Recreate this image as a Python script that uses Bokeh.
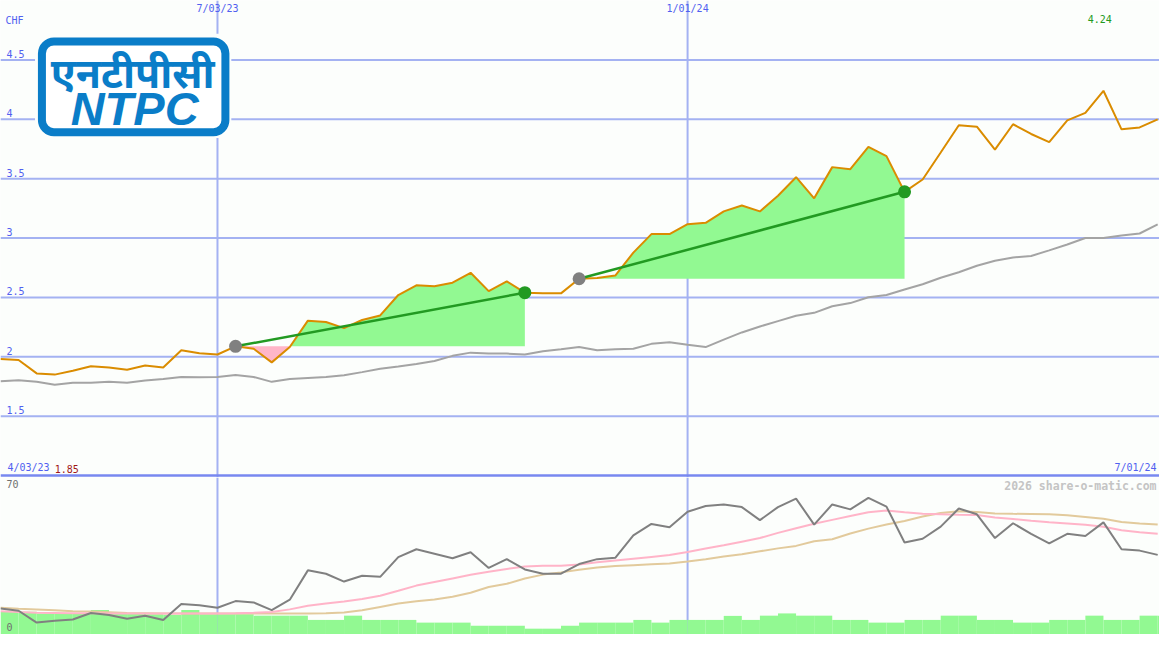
from bokeh.plotting import figure
from bokeh.layouts import column
from bokeh.models import Span, BoxAnnotation, Label, Range1d
from bokeh.embed import file_html
from bokeh.resources import INLINE

# ---------------- data (weekly points) ----------------
weeks = list(range(65))
price = [1.981, 1.973, 1.860, 1.850, 1.882, 1.920, 1.910, 1.891, 1.926, 1.910,
         2.055, 2.030, 2.019, 2.088, 2.068, 1.953, 2.082, 2.304, 2.293, 2.241,
         2.310, 2.348, 2.520, 2.602, 2.594, 2.624, 2.707, 2.553, 2.635, 2.540,
         2.534, 2.534, 2.657, 2.663, 2.684, 2.877, 3.033, 3.033, 3.117, 3.128,
         3.224, 3.274, 3.224, 3.356, 3.512, 3.334, 3.597, 3.580, 3.767, 3.690,
         3.389, 3.493, 3.720, 3.950, 3.937, 3.745, 3.958, 3.876, 3.808, 3.991,
         4.054, 4.240, 3.915, 3.931, 3.999]
moving_avg = [1.795, 1.803, 1.789, 1.764, 1.781, 1.781, 1.789, 1.781, 1.800, 1.813,
              1.830, 1.827, 1.830, 1.846, 1.830, 1.789, 1.813, 1.822, 1.830, 1.844,
              1.871, 1.899, 1.918, 1.940, 1.965, 2.008, 2.035, 2.027, 2.027, 2.019,
              2.047, 2.063, 2.082, 2.055, 2.063, 2.068, 2.109, 2.123, 2.101, 2.082,
              2.145, 2.205, 2.255, 2.300, 2.345, 2.370, 2.425, 2.452, 2.501, 2.520,
              2.567, 2.611, 2.666, 2.712, 2.767, 2.808, 2.836, 2.849, 2.896, 2.945,
              3.000, 3.000, 3.021, 3.038, 3.115]
rsi = [11.6, 10.6, 5.3, 6.1, 6.7, 9.6, 8.7, 7.0, 8.4, 6.5,
       13.6, 13.0, 11.9, 14.9, 14.3, 10.9, 15.5, 28.6, 27.1, 23.6,
       26.2, 25.7, 34.5, 38.0, 36.0, 34.0, 36.7, 29.7, 33.6, 29.0,
       27.1, 27.1, 31.4, 33.6, 34.2, 44.2, 49.3, 47.8, 54.7, 57.3,
       58.0, 56.8, 51.0, 56.8, 60.6, 49.0, 58.0, 55.8, 60.9, 57.0,
       41.0, 42.7, 48.1, 56.2, 53.6, 43.0, 49.6, 44.9, 40.6, 44.9,
       43.9, 50.0, 38.0, 37.4, 35.5]
rsi_fast = [10.4, 10.0, 9.7, 9.6, 9.5, 9.5, 9.4, 9.4, 9.4, 9.4,
            9.4, 9.4, 9.4, 9.5, 9.7, 10.0, 11.2, 12.8, 13.8, 14.7,
            15.8, 17.3, 19.5, 21.8, 23.4, 25.0, 26.6, 28.0, 29.2, 30.3,
            30.7, 30.7, 31.2, 32.2, 33.0, 33.8, 34.6, 35.4, 36.8, 38.3,
            39.8, 41.4, 43.0, 45.3, 47.4, 49.4, 51.1, 52.8, 54.5, 55.3,
            54.5, 53.8, 53.6, 53.4, 53.3, 52.2, 51.5, 50.7, 50.0, 49.5,
            48.9, 48.0, 46.5, 45.6, 44.9]
rsi_slow = [11.9, 11.5, 11.2, 10.8, 10.4, 10.2, 9.9, 9.6, 9.5, 9.4,
            9.4, 9.4, 9.4, 9.4, 9.4, 9.4, 9.4, 9.4, 9.5, 9.8,
            10.8, 12.3, 13.8, 14.8, 15.6, 16.8, 18.6, 21.2, 22.6, 25.0,
            26.7, 27.7, 28.9, 29.9, 30.5, 30.9, 31.3, 31.7, 32.5, 33.6,
            34.8, 35.8, 37.1, 38.4, 39.5, 41.6, 42.5, 45.0, 47.2, 49.0,
            50.6, 52.6, 54.2, 55.0, 54.6, 54.0, 53.8, 53.7, 53.6, 53.2,
            52.4, 51.6, 50.2, 49.5, 49.0]
volume = [10.1, 10.1, 9.4, 9.4, 9.4, 10.9, 9.4, 9.4, 9.0, 8.7,
          10.9, 9.0, 9.0, 9.0, 8.4, 8.4, 8.4, 6.5, 6.5, 8.4,
          6.5, 6.5, 6.5, 5.3, 5.3, 5.3, 3.9, 3.9, 3.9, 2.6,
          2.6, 3.9, 5.3, 5.3, 5.3, 6.5, 5.3, 6.5, 6.5, 6.5,
          8.3, 6.5, 8.4, 9.4, 8.4, 8.4, 6.5, 6.5, 5.3, 5.3,
          6.5, 6.5, 8.4, 8.4, 6.5, 6.5, 5.3, 5.3, 6.5, 6.5,
          8.4, 6.5, 6.5, 8.4, 8.4]
trend_start = [13, 32]
trend_end = [29, 50]
price_ticks = [1.5, 2.0, 2.5, 3.0, 3.5, 4.0, 4.5]
price_tick_labels = ["1.5", "2", "2.5", "3", "3.5", "4", "4.5"]
date_ticks = [12, 38]
date_tick_labels = ["7/03/23", "1/01/24"]
start_label = "4/03/23"
end_label = "7/01/24"
currency = "CHF"
rsi_ticks = [70, 0]
rsi_tick_labels = ["70", "0"]
credit = "2026 share-o-matic.com"
logo_hindi = "एनटीपीसी"
logo_latin = "NTPC"

# ---------------- style ----------------
BG = "#FCFEFC"
GRID = "#A4B2F2"
SEP = "#7888F0"
TXT = "#5060F0"
ORANGE = "#DA8C00"
MA_GRAY = "#A4A4A4"
FILL_G = "#92F992"
FILL_P = "#FFB6C8"
TREND = "#229A22"
DOT_GRAY = "#808080"
LOGO = "#0A7DC8"
MONO = "DejaVu Sans Mono"

W = 1159
H_TOP = 477
H_BOT = 157
X0, X1 = 0.0, 64.1
Y0, Y1 = 0.9836, 5.0
REF_W, REF_TOP = 1175.0, 489.0


def fx(px):
    return X0 + px * (X1 - X0) / REF_W


def fy(py):
    return Y1 - py * (Y1 - Y0) / REF_TOP


def fy2(py):
    return (650.0 - py) * 70.0 / 161.0


xr = Range1d(X0, X1)

p = figure(width=W, height=H_TOP, x_range=xr, y_range=Range1d(Y0, Y1),
           x_axis_type=None, y_axis_type=None, output_backend="svg",
           toolbar_location=None, min_border=0, outline_line_color=None,
           background_fill_color=BG, border_fill_color=BG)
p.grid.visible = False

for t in price_ticks:
    p.add_layout(Span(location=t, dimension="width", line_color=GRID,
                      line_width=2, level="underlay"))
for d in date_ticks:
    p.add_layout(Span(location=d, dimension="height", line_color=GRID,
                      line_width=2, level="underlay"))
p.add_layout(Span(location=1.0, dimension="width", line_color=SEP,
                  line_width=2.5, level="underlay"))


def split_at_base(i0, i1, base):
    xs, ys = [], []
    for k in range(i0, i1 + 1):
        if k > i0:
            a, b = price[k - 1], price[k]
            if (a - base) * (b - base) < 0:
                t = (base - a) / (b - a)
                xs.append(weeks[k - 1] + t)
                ys.append(base)
        xs.append(weeks[k])
        ys.append(price[k])
    return xs, ys


for s, e in zip(trend_start, trend_end):
    base = price[s]
    xs, ys = split_at_base(s, e, base)
    p.varea(x=xs, y1=[base] * len(xs), y2=[max(v, base) for v in ys],
            fill_color=FILL_G)
    p.varea(x=xs, y1=[min(v, base) for v in ys], y2=[base] * len(xs),
            fill_color=FILL_P)

p.line(weeks, moving_avg, line_color=MA_GRAY, line_width=2)
p.line(weeks, price, line_color=ORANGE, line_width=2)

for s, e in zip(trend_start, trend_end):
    p.line([weeks[s], weeks[e]], [price[s], price[e]], line_color=TREND,
           line_width=2.5)
p.scatter([weeks[s] for s in trend_start], [price[s] for s in trend_start],
          size=13, fill_color=DOT_GRAY, line_color=None)
p.scatter([weeks[e] for e in trend_end], [price[e] for e in trend_end],
          size=13, fill_color=TREND, line_color=None)

# labels
for t, lab in zip(price_ticks, price_tick_labels):
    p.add_layout(Label(x=fx(6), y=t, text=lab, text_font=MONO,
                       text_font_size="10px", text_color=TXT,
                       text_baseline="bottom", y_offset=2))
p.add_layout(Label(x=fx(5), y=fy(15), text=currency, text_font=MONO,
                   text_font_size="10px", text_color=TXT, text_baseline="top"))
for d, lab in zip(date_ticks, date_tick_labels):
    p.add_layout(Label(x=d, y=fy(3), text=lab, text_font=MONO,
                       text_font_size="10px", text_color=TXT,
                       text_baseline="top", text_align="center"))
imax = max(weeks, key=lambda i: price[i])
imin = min(weeks, key=lambda i: price[i])
p.add_layout(Label(x=weeks[imax] - 0.2, y=fy(15), text=f"{price[imax]:.2f}",
                   text_font=MONO, text_font_size="10px", text_color="#229A22",
                   text_baseline="top", text_align="center"))
p.add_layout(Label(x=fx(7), y=fy(484), text=start_label, text_font=MONO,
                   text_font_size="10px", text_color=TXT, text_baseline="bottom"))
p.add_layout(Label(x=fx(55), y=fy(484), text=f"{price[imin]:.2f}",
                   text_font=MONO, text_font_size="10px", text_color="#A01818",
                   text_baseline="bottom"))
p.add_layout(Label(x=fx(1172), y=fy(484), text=end_label, text_font=MONO,
                   text_font_size="10px", text_color=TXT,
                   text_baseline="bottom", text_align="right"))

# logo
p.add_layout(BoxAnnotation(left=fx(35), right=fx(234), top=fy(34), bottom=fy(141),
                           fill_color=BG, fill_alpha=1, line_color=None))
p.add_layout(BoxAnnotation(left=fx(42), right=fx(228), top=fy(42), bottom=fy(135),
                           fill_color="#FFFFFF", fill_alpha=1, line_color=LOGO,
                           line_alpha=1, line_width=8, border_radius=12))
p.add_layout(Label(x=fx(134), y=fy(73), text=logo_hindi, text_font="Noto Sans",
                   text_font_size="41px", text_font_style="bold italic",
                   text_color=LOGO, text_align="center", text_baseline="middle"))
p.add_layout(Label(x=fx(136), y=fy(111), text=logo_latin, text_font="Liberation Sans",
                   text_font_size="47px", text_font_style="bold italic",
                   text_color=LOGO, text_align="center", text_baseline="middle"))

# ---------------- bottom panel ----------------
q = figure(width=W, height=H_BOT, x_range=xr, y_range=Range1d(0, 70),
           x_axis_type=None, y_axis_type=None, output_backend="svg",
           toolbar_location=None, min_border=0, outline_line_color=None,
           background_fill_color=BG, border_fill_color=BG)
q.grid.visible = False
for d in date_ticks:
    q.add_layout(Span(location=d, dimension="height", line_color=GRID,
                      line_width=2, level="underlay"))
q.quad(left=weeks, right=[w + 1 for w in weeks], bottom=0, top=volume,
       fill_color=FILL_G, line_color=None)
q.line(weeks, rsi_slow, line_color="#E2CA9C", line_width=2)
q.line(weeks, rsi_fast, line_color="#FFB4C8", line_width=2)
q.line(weeks, rsi, line_color="#808080", line_width=2)

q.add_layout(Label(x=fx(6), y=fy2(492), text=rsi_tick_labels[0], text_font=MONO,
                   text_font_size="10px", text_color="#707070", text_baseline="top"))
q.add_layout(Label(x=fx(6), y=fy2(646), text=rsi_tick_labels[1], text_font=MONO,
                   text_font_size="10px", text_color="#707070", text_baseline="bottom"))
q.add_layout(Label(x=fx(1172), y=fy2(491), text=credit, text_font=MONO,
                   text_font_size="11.5px", text_font_style="bold",
                   text_color="#C4C4C4", text_baseline="top", text_align="right"))

layout = column(p, q, spacing=0)
open("out.html", "w").write(file_html(layout, INLINE))
